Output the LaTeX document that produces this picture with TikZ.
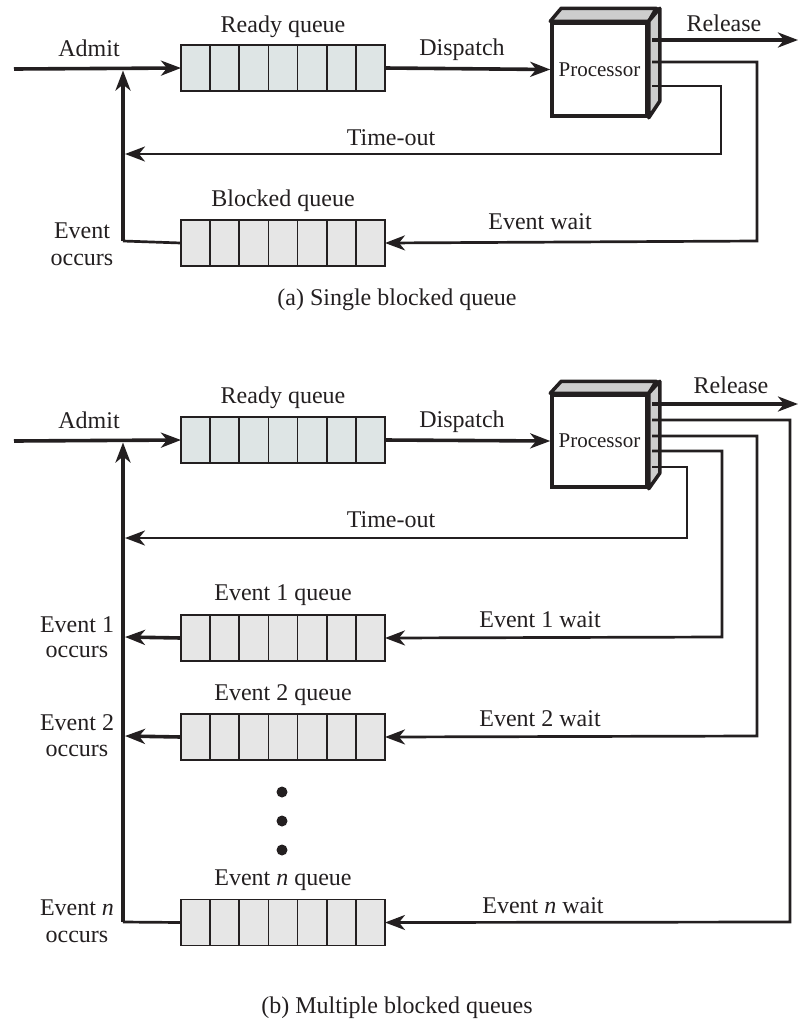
\documentclass[tikz,border=0pt]{standalone}
\usepackage{fontspec}
\setmainfont{Liberation Serif}
\usetikzlibrary{arrows.meta,calc}
\definecolor{readyfill}{RGB}{222,229,229}
\definecolor{blockfill}{RGB}{230,230,230}
\definecolor{procgray}{RGB}{205,205,205}
\definecolor{ink}{RGB}{35,31,32}
\tikzset{
  queueR/.style={draw=ink, fill=readyfill, line width=1.8pt, minimum width=204pt, minimum height=46pt, inner sep=0pt, outer sep=0pt},
  queueB/.style={queueR, fill=blockfill},
  divider/.style={draw=ink, line width=1.8pt},
  lab/.style={font=\fontsize{24}{28}\selectfont, inner sep=0pt, anchor=base, text=ink},
  proc/.style={draw=ink, fill=white, line width=3.5pt, minimum width=95pt, minimum height=92pt, inner sep=0pt, font=\fontsize{21}{24}\selectfont, text=ink},
  face/.style={draw=ink, fill=procgray, line width=3.5pt, line join=round},
  head/.style={-{Stealth[length=20pt,width=15pt,inset=6pt]}},
  thickline/.style={draw=ink, line width=3.6pt},
  thinline/.style={draw=ink, line width=2.7pt},
  thickarr/.style={thickline, head},
  thinarr/.style={thinline, head},
  dot/.style={circle, fill=ink, inner sep=0pt, minimum size=11pt}
}
\newcommand{\qcells}[1]{%
  \foreach \i in {1,...,6}{
    \draw[divider] ($(#1.south west)!\i/7!(#1.south east)$) -- ($(#1.north west)!\i/7!(#1.north east)$);
  }}
\begin{document}
\begin{tikzpicture}[x=1pt,y=-1pt]
\useasboundingbox (0,0) rectangle (799,1021);

% ================= (a) =================
\node[queueR] (rqA) at (283,68) {};
\qcells{rqA}
\node[queueB] (bqA) at (283,243) {};
\qcells{bqA}
\node[proc, minimum height=93pt] (procA) at (599.5,69.5) {};
\draw[face] (procA.north west) -- ++(11pt,13pt) -- ++(95pt,0pt) -- (procA.north east) -- cycle;
\draw[face] (procA.north east) -- ++(11pt,13pt) -- ++(0pt,-93pt) -- (procA.south east) -- cycle;
\node[proc, draw=none, fill=none, minimum height=93pt] (procAtxt) at (599.5,69.5) {Processor};

\coordinate (admA) at (14,69);
\coordinate (jA) at (123,69);
\coordinate (cA) at (123,241);
\coordinate (oA1) at (652,40);
\coordinate (oA2) at (652,62);
\coordinate (oA3) at (652,86);
\coordinate (relA) at (798,40);
\coordinate (toA) at (721,154);
\coordinate (toEndA) at (125,154);
\coordinate (ewA) at (757,241);

\draw[thickarr] (admA) -- (rqA.west);
\draw[thickarr] (rqA.east) -- (procA.west);
\draw[thickarr] (oA1) -- (relA);
\draw[thinline] (bqA.west) -- (cA);
\draw[thickarr, shorten >=1.5pt] (cA) -- (jA);
\draw[thinarr] (oA3) -| (toA) -- (toEndA);
\draw[thinarr] (oA2) -| (ewA) -- (bqA.east);

\node[lab] (tAdmitA) at (89,56) {Admit};
\node[lab] (tReadyA) at (283,32) {Ready queue};
\node[lab] (tDispA) at (462,55) {Dispatch};
\node[lab] (tRelA) at (724,31) {Release};
\node[lab] (tTimeA) at (391,145) {Time-out};
\node[lab] (tBlkA) at (283,206) {Blocked queue};
\node[lab] (tEwA) at (540,229) {Event wait};
\node[lab] (tEvA) at (82,238) {Event};
\node[lab] (tOcA) at (82,265) {occurs};
\node[lab] (capA) at (397,305) {(a) Single blocked queue};

% ================= (b) =================
\node[queueR] (rqB) at (283,440) {};
\qcells{rqB}
\node[queueB] (eq1) at (283,638) {};
\qcells{eq1}
\node[queueB] (eq2) at (283,737) {};
\qcells{eq2}
\node[queueB] (eqN) at (283,922.5) {};
\qcells{eqN}
\node[proc] (procB) at (599.5,441) {};
\draw[face] (procB.north west) -- ++(11pt,12pt) -- ++(95pt,0pt) -- (procB.north east) -- cycle;
\draw[face] (procB.north east) -- ++(11pt,12pt) -- ++(0pt,-92pt) -- (procB.south east) -- cycle;
\node[proc, draw=none, fill=none] (procBtxt) at (599.5,441) {Processor};

\coordinate (admB) at (14,441);
\coordinate (jB) at (123,441);
\coordinate (cB) at (123,922);
\coordinate (oB1) at (652,404);
\coordinate (oB2) at (652,420);
\coordinate (oB3) at (652,436);
\coordinate (oB4) at (652,451);
\coordinate (oB5) at (652,467);
\coordinate (relB) at (798,404);
\coordinate (toB) at (687,538);
\coordinate (toEndB) at (125,538);
\coordinate (w1) at (722,637);
\coordinate (w2) at (757,736);
\coordinate (wN) at (790,922);
\coordinate (e1) at (125,637);
\coordinate (e2) at (125,736);

\draw[thickarr] (admB) -- (rqB.west);
\draw[thickarr] (rqB.east) -- (procB.west);
\draw[thickarr] (oB1) -- (relB);
\draw[thinline] (eqN.west) -- (cB);
\draw[thickarr, shorten >=1.5pt] (cB) -- (jB);
\draw[thinarr] (oB5) -| (toB) -- (toEndB);
\draw[thinarr] (oB4) -| (w1) -- (eq1.east);
\draw[thinarr] (oB3) -| (w2) -- (eq2.east);
\draw[thinarr] (oB2) -| (wN) -- (eqN.east);
\draw[thickarr] (eq1.west) -- (e1);
\draw[thickarr] (eq2.west) -- (e2);

\node[dot] (d1) at (282,792) {};
\node[dot] (d2) at (282,821) {};
\node[dot] (d3) at (282,850) {};

\node[lab] (tAdmitB) at (89,428) {Admit};
\node[lab] (tReadyB) at (283,403) {Ready queue};
\node[lab] (tDispB) at (462,427) {Dispatch};
\node[lab] (tRelB) at (731,393) {Release};
\node[lab] (tTimeB) at (391,527) {Time-out};
\node[lab] (tQ1) at (283,600) {Event 1 queue};
\node[lab] (tW1) at (540,627) {Event 1 wait};
\node[lab] (tE1) at (77,632) {Event 1};
\node[lab] (tO1) at (77,657) {occurs};
\node[lab] (tQ2) at (283,700) {Event 2 queue};
\node[lab] (tW2) at (540,726) {Event 2 wait};
\node[lab] (tE2) at (77,730) {Event 2};
\node[lab] (tO2) at (77,756) {occurs};
\node[lab] (tQN) at (283,885) {Event \textit{n} queue};
\node[lab] (tWN) at (543,913) {Event \textit{n} wait};
\node[lab] (tEN) at (77,915) {Event \textit{n}};
\node[lab] (tON) at (77,942) {occurs};
\node[lab] (capB) at (397,1013) {(b) Multiple blocked queues};
\end{tikzpicture}
\end{document}
